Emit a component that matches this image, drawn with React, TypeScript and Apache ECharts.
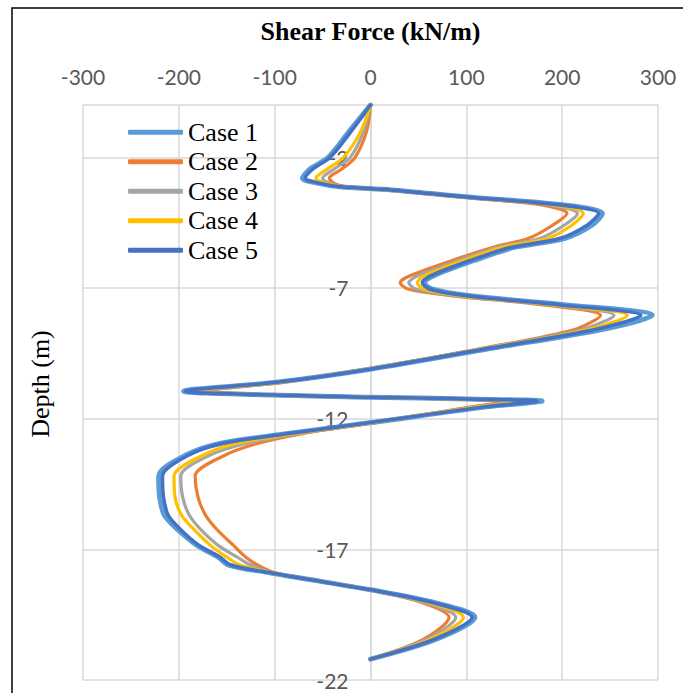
import React, { useEffect, useRef } from "react";
import * as echarts from "echarts";

const caseNames = ["Case 1", "Case 2", "Case 3", "Case 4", "Case 5"];
const caseColors = ["#5B9BD5", "#ED7D31", "#A5A5A5", "#FFC000", "#4472C4"];
const caseWidths = [5, 3.2, 3.2, 3.2, 3.5];

const xTicks = [-300, -200, -100, 0, 100, 200, 300];
const yTickLabels = [-22, -17, -12, -7, -2];

const depth = [0, -1, -2, -2.45, -2.8, -3.0, -3.13, -3.25, -3.5, -3.83, -4.15, -4.6, -5.1, -5.45, -5.95, -6.55, -6.8, -7.05, -7.3, -7.65, -8.05, -8.6, -9.3, -10.1, -10.6, -10.95, -11.1, -11.18, -11.25, -11.33, -11.55, -12.15, -12.6, -12.95, -13.4, -14.2, -15.0, -15.7, -16.25, -16.85, -17.3, -17.6, -17.9, -18.1, -18.55, -19.05, -19.6, -20.45, -21.2];

const case1 = [0, -22, -44, -63, -71, -54, -32, 22, 96, 202, 242, 231, 203, 150, 108, 65, 56, 65, 104, 205, 294, 240, 128, 1, -96, -195, -101, 0, 102, 179, 121, 1, -92, -157, -193, -221, -220, -215, -201, -181, -159, -148, -105, -73, 0, 68, 109, 68, 0];
const case2 = [0, -4, -16, -30, -43, -38, -25, 18, 88, 180, 205, 190, 165, 127, 85, 40, 31, 40, 85, 180, 240, 212, 118, -3, -90, -170, -95, 0, 95, 143, 105, 3, -75, -118, -152, -183, -180, -172, -160, -143, -130, -118, -100, -72, 0, 55, 82, 55, 0];
const case3 = [0, -7, -21, -38, -50, -42, -27, 19, 90, 188, 216, 202, 177, 132, 92, 48, 40, 48, 90, 187, 254, 220, 120, -5, -92, -178, -97, 0, 97, 150, 110, 2, -80, -130, -168, -198, -196, -189, -177, -159, -139, -125, -102, -72, 0, 58, 89, 58, 0];
const case4 = [0, -10, -28, -45, -57, -46, -29, 20, 92, 193, 222, 210, 185, 137, 97, 55, 49, 56, 95, 192, 268, 226, 122, -3, -93, -184, -98, 0, 98, 160, 113, 1, -85, -140, -175, -205, -204, -197, -184, -167, -150, -136, -103, -72, 0, 62, 97, 62, 0];
const case5 = [0, -20, -42, -60, -68, -52, -31, 21, 94, 198, 238, 226, 198, 146, 104, 62, 54, 62, 100, 198, 282, 233, 125, 0, -95, -193, -100, 0, 100, 174, 118, 0, -91, -155, -190, -217, -216, -211, -198, -179, -157, -146, -104, -73, 0, 66, 106, 66, 0];

const caseValues = [case1, case2, case3, case4, case5];

const SERIF = "'Liberation Serif', 'Times New Roman', serif";
const SANS = "Lato, 'Open Sans', sans-serif";

const GRID_LEFT = 83;
const GRID_RIGHT = 25;
const CHART_W = 683;

export default function App() {
  const ref = useRef<HTMLDivElement>(null);

  useEffect(() => {
    if (!ref.current) return;
    const chart = echarts.init(ref.current, undefined, { renderer: "svg" });
    const gridWidth = CHART_W - GRID_LEFT - GRID_RIGHT;
    chart.setOption({
      animation: false,
      backgroundColor: "#ffffff",
      grid: { left: GRID_LEFT, right: GRID_RIGHT, top: 105, bottom: 13, containLabel: false },
      legend: {
        orient: "vertical",
        left: 128,
        top: 119,
        padding: 0,
        icon: "roundRect",
        itemWidth: 55,
        itemHeight: 5,
        itemGap: 3,
        data: caseNames,
        textStyle: { fontFamily: SERIF, fontSize: 26, color: "#000", lineHeight: 26.5 },
      },
      xAxis: {
        type: "value",
        position: "top",
        min: -300,
        max: 300,
        interval: 100,
        name: "Shear Force (kN/m)",
        nameLocation: "middle",
        nameGap: 61,
        nameTextStyle: { fontFamily: SERIF, fontSize: 26, fontWeight: "bold", color: "#000" },
        axisLine: { show: true, onZero: false, lineStyle: { color: "#D9D9D9", width: 1.5 } },
        axisTick: { show: false },
        axisLabel: { fontFamily: SANS, fontSize: 21, color: "#595959", margin: 18, customValues: xTicks },
        splitLine: { show: true, lineStyle: { color: "#D9D9D9", width: 1.5 } },
      },
      yAxis: {
        type: "value",
        min: -22,
        max: 0,
        position: "left",
        offset: -gridWidth / 2,
        axisLine: { show: true, onZero: false, lineStyle: { color: "#D9D9D9", width: 1.5 } },
        axisTick: { show: false, customValues: yTickLabels },
        axisLabel: { fontFamily: SANS, fontSize: 21, color: "#595959", margin: 22, customValues: yTickLabels },
        splitLine: { show: true, lineStyle: { color: "#D9D9D9", width: 1.5 } },
      },
      graphic: [
        {
          type: "rect",
          shape: { x: 12, y: 8, width: 720, height: 720 },
          style: { fill: "none", stroke: "#000", lineWidth: 1.5 },
          silent: true,
          z: 100,
        },
        {
          type: "text",
          x: 40,
          y: 384,
          rotation: Math.PI / 2,
          style: {
            text: "Depth (m)",
            fontFamily: SERIF,
            fontSize: 26,
            fill: "#000",
            textAlign: "center",
            textVerticalAlign: "middle",
          },
        },
      ],
      series: caseNames.map((name, i) => ({
        name,
        type: "line",
        smooth: 0.3,
        symbol: "none",
        showSymbol: false,
        color: caseColors[i],
        lineStyle: { color: caseColors[i], width: caseWidths[i], cap: "round", join: "round" },
        z: 2 + i,
        data: depth.map((d, k) => [caseValues[i][k], d]),
      })),
    });
    return () => chart.dispose();
  }, []);

  return (
    <div
      ref={ref}
      style={{ position: "absolute", left: 0, top: 0, width: 683, height: 693 }}
    />
  );
}
